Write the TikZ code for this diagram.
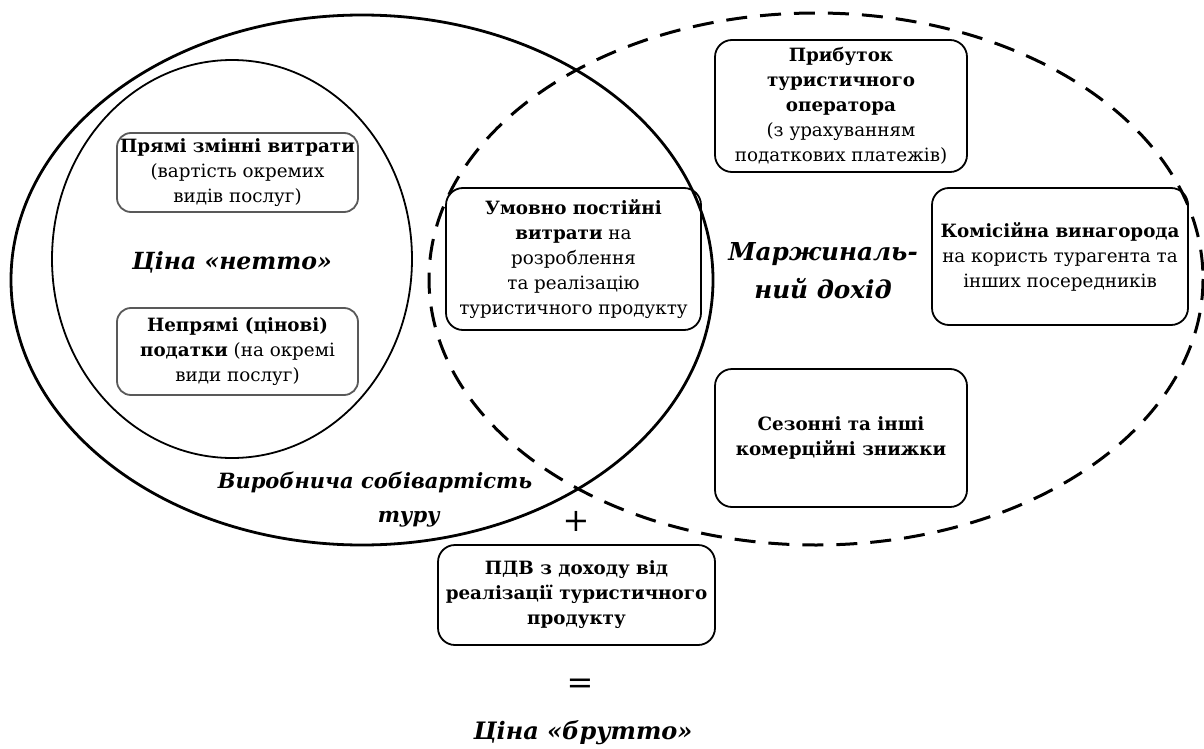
\documentclass[tikz,border=0pt]{standalone}
\usepackage{fontspec}
\setmainfont{DejaVu Serif}
\begin{document}
\begin{tikzpicture}[x=1pt,y=-1pt,
  box/.style={draw=black,line width=1.8pt,rounded corners=17pt,align=center,
    font=\fontsize{18.3}{25}\selectfont,inner sep=2pt},
  graybox/.style={box,draw=black!65,rounded corners=14pt},
  title/.style={align=center,font=\fontsize{24}{36}\selectfont\bfseries\itshape},
  sign/.style={font=\fontsize{32}{32}\selectfont}]
\useasboundingbox (0,0) rectangle (1204,749);
% ellipses
\draw[line width=2.8pt] (362,280) ellipse [x radius=351, y radius=265];
\draw[line width=1.8pt] (232,259) ellipse [x radius=180, y radius=199];
\draw[line width=3pt,dash pattern=on 21pt off 13pt] (816,279) ellipse [x radius=387, y radius=266];
% boxes
\node[graybox,minimum width=241pt,minimum height=79pt] (pz) at (237.5,172.5)
  {\textbf{Прямі змінні витрати}\\(вартість окремих\\видів послуг)};
\node[graybox,minimum width=241pt,minimum height=87pt] (np) at (237.5,351.5)
  {\textbf{Непрямі (цінові)}\\\textbf{податки} (на окремі\\види послуг)};
\node[box,minimum width=255pt,minimum height=142pt] (up) at (573.5,259)
  {\textbf{Умовно постійні}\\\textbf{витрати} на\\розроблення\\та реалізацію\\туристичного продукту};
\node[box,minimum width=252pt,minimum height=132pt] (pr) at (841,106)
  {\textbf{Прибуток}\\\textbf{туристичного}\\\textbf{оператора}\\(з урахуванням\\податкових платежів)};
\node[box,minimum width=256pt,minimum height=137pt] (kv) at (1060,256.5)
  {\textbf{Комісійна винагорода}\\на користь турагента та\\інших посередників};
\node[box,minimum width=252pt,minimum height=138pt] (sz) at (841,438)
  {\textbf{Сезонні та інші}\\\textbf{комерційні знижки}};
\node[box,minimum width=277pt,minimum height=100pt] (pdv) at (576.5,595)
  {\textbf{ПДВ з доходу від}\\\textbf{реалізації туристичного}\\\textbf{продукту}};
% titles
\node[title,font=\fontsize{23.6}{36}\selectfont\bfseries\itshape] (netto) at (232,262) {Ціна «нетто»};
\node[title,font=\fontsize{24.7}{38}\selectfont\bfseries\itshape] (md) at (823,271) {Маржиналь-\\ний дохід};
\node[title,align=left,font=\fontsize{21}{34}\selectfont\bfseries\itshape] (vs) at (375,500) {Виробнича собівартість\\\hspace*{160pt}туру};
\node[sign] (plus) at (576,521) {+};
\node[sign] (eq) at (580,686) {=};
\node[title] (brutto) at (583,733) {Ціна «брутто»};
\end{tikzpicture}
\end{document}
